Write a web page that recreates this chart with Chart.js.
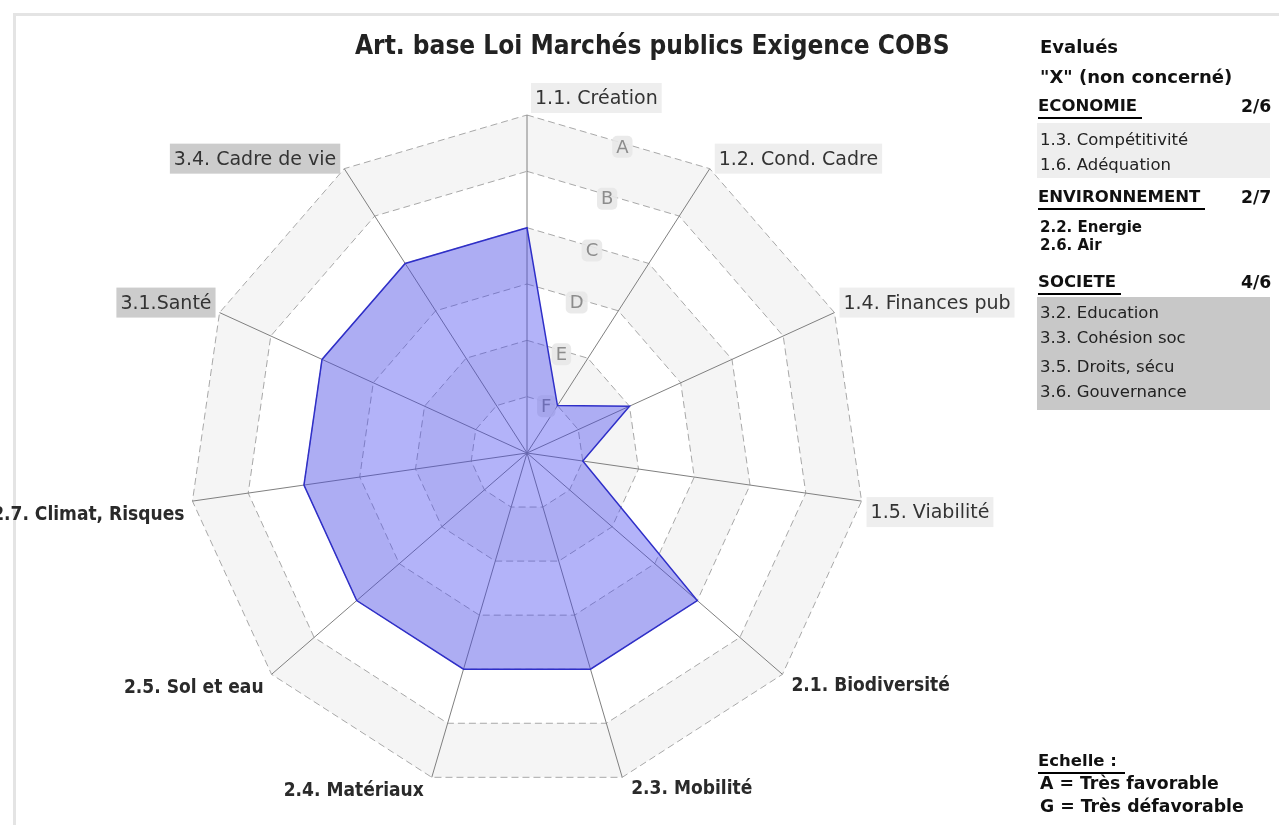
<!DOCTYPE html>
<html>
<head>
<meta charset="utf-8">
<script src="https://cdn.jsdelivr.net/npm/chart.js@4"></script>
<style>
  html, body { margin:0; padding:0; background:#fff; }
  #wrap { position:relative; width:1279px; height:825px; overflow:hidden; }
  #frame { position:absolute; left:13px; top:13px; width:1300px; height:900px; border-left:3px solid #e4e4e4; border-top:3px solid #e4e4e4; }
  canvas { position:absolute; left:0; top:0; }
  .t { position:absolute; white-space:nowrap; font-family:"DejaVu Sans", sans-serif; color:#111; }
  #title { left:355px; top:28px; width:590px; text-align:center; font-size:26px; font-weight:bold; font-stretch:condensed; font-family:"DejaVu Sans Condensed","DejaVu Sans",sans-serif; color:#222; line-height:34px; }
  .b { font-weight:bold; font-size:17.3px; line-height:20px; }
  .b18 { font-weight:bold; font-size:18px; line-height:20px; }
  .b15 { font-weight:bold; font-size:15px; line-height:18px; }
  .r { font-size:16.5px; line-height:22px; color:#222; }
  .h { font-weight:bold; font-size:16.5px; line-height:20px; border-bottom:2px solid #000; padding-right:5px; padding-bottom:1px; }
  .box { position:absolute; left:1037px; width:233px; }
</style>
</head>
<body>
<div id="wrap">
  <div id="frame"></div>
  <canvas id="c" width="1279" height="825"></canvas>
  <div id="title" class="t">Art. base Loi Marchés publics Exigence COBS</div>

  <div class="t b18" style="left:1040px;top:37px;">Evalués</div>
  <div class="t b18" style="left:1040px;top:67px;">"X" (non concerné)</div>

  <div class="t h" style="left:1038px;top:96px;">ECONOMIE</div>
  <div class="t b" style="left:1241px;top:96px;">2/6</div>
  <div class="box" style="top:123px;height:55px;background:#eeeeee;"></div>
  <div class="t r" style="left:1040px;top:129px;">1.3. Compétitivité</div>
  <div class="t r" style="left:1040px;top:154px;">1.6. Adéquation</div>

  <div class="t h" style="left:1038px;top:187px;">ENVIRONNEMENT</div>
  <div class="t b" style="left:1241px;top:187px;">2/7</div>
  <div class="t b15" style="left:1040px;top:218px;">2.2. Energie</div>
  <div class="t b15" style="left:1040px;top:236px;">2.6. Air</div>

  <div class="t h" style="left:1038px;top:272px;">SOCIETE</div>
  <div class="t b" style="left:1241px;top:272px;">4/6</div>
  <div class="box" style="top:297px;height:113px;background:#c8c8c8;"></div>
  <div class="t r" style="left:1040px;top:302px;">3.2. Education</div>
  <div class="t r" style="left:1040px;top:327px;">3.3. Cohésion soc</div>
  <div class="t r" style="left:1040px;top:356px;">3.5. Droits, sécu</div>
  <div class="t r" style="left:1040px;top:381px;">3.6. Gouvernance</div>

  <div class="t h" style="left:1038px;top:751px;padding-right:8px;">Echelle :</div>
  <div class="t b" style="left:1040px;top:773px;">A = Très favorable</div>
  <div class="t b" style="left:1040px;top:796px;">G = Très défavorable</div>
</div>
<script>
// ---- data ----
const categories = ['1.1. Création', '1.2. Cond. Cadre', '1.4. Finances pub', '1.5. Viabilité',
  '2.1. Biodiversité', '2.3. Mobilité', '2.4. Matériaux', '2.5. Sol et eau',
  '2.7. Climat, Risques', '3.1.Santé', '3.4. Cadre de vie'];
const values = [4, 1, 2, 1, 4, 4, 4, 4, 4, 4, 4];
const gradeLabels = ['G', 'F', 'E', 'D', 'C', 'B', 'A']; // index = scale value
const scaleMin = 0;
const scaleMax = 6;

// ---- plugins ----
const bandsPlugin = {
  id: 'bands',
  beforeDraw(chart) {
    const s = chart.scales.r;
    const ctx = chart.ctx;
    const n = chart.data.labels.length;
    ctx.save();
    for (let v = scaleMax; v > scaleMin; v--) {
      const grey = (scaleMax - v) % 2 === 0;
      ctx.beginPath();
      for (let i = 0; i < n; i++) {
        const p = s.getPointPositionForValue(i, v);
        i === 0 ? ctx.moveTo(p.x, p.y) : ctx.lineTo(p.x, p.y);
      }
      ctx.closePath();
      ctx.fillStyle = grey ? '#f5f5f5' : '#ffffff';
      ctx.fill();
    }
    ctx.restore();
  }
};

const gradePlugin = {
  id: 'grades',
  beforeDatasetsDraw(chart) {
    const s = chart.scales.r;
    const ctx = chart.ctx;
    ctx.save();
    ctx.font = '18px "DejaVu Sans", sans-serif';
    ctx.textAlign = 'center';
    ctx.textBaseline = 'middle';
    for (let v = scaleMin + 1; v <= scaleMax; v++) {
      const a = s.getPointPositionForValue(0, v);
      const b = s.getPointPositionForValue(1, v);
      const x = (a.x + b.x) / 2 + 4, y = (a.y + b.y) / 2 + 5;
      const txt = gradeLabels[v];
      const w = ctx.measureText(txt).width + 8;
      const h = 22;
      ctx.fillStyle = 'rgba(232,232,232,0.9)';
      ctx.beginPath();
      ctx.roundRect(x - w / 2, y - h / 2, w, h, 5);
      ctx.fill();
      ctx.fillStyle = '#8c8c8c';
      ctx.fillText(txt, x, y + 1);
    }
    ctx.restore();
  }
};

const labelPlugin = {
  id: 'axisLabels',
  afterDraw(chart) {
    const s = chart.scales.r;
    const ctx = chart.ctx;
    const n = chart.data.labels.length;
    ctx.save();
    ctx.textBaseline = 'middle';
    for (let i = 0; i < n; i++) {
      const txt = chart.data.labels[i];
      const group = txt.charAt(0);
      const p = s.getPointPosition(i, s.drawingArea);
      const ang = i * 2 * Math.PI / n;
      const sin = Math.sin(ang), cos = Math.cos(ang);
      if (group === '2') {
        ctx.font = 'bold 19px "Liberation Sans Narrow", "DejaVu Sans Condensed", sans-serif';
      } else {
        ctx.font = '19px "DejaVu Sans", sans-serif';
      }
      const tw = ctx.measureText(txt).width;
      let left, cy;
      if (i === 0) {
        left = p.x + 8; cy = p.y - 17;
      } else if (sin > 0) {
        left = p.x + 9; cy = cos > 0 ? p.y - 10 : p.y + 11;
      } else {
        left = p.x - 8 - tw; cy = cos > 0 ? p.y - 10 : p.y + 13;
      }
      if (group !== '2') {
        ctx.fillStyle = group === '1' ? '#eeeeee' : '#cccccc';
        ctx.fillRect(left - 4, cy - 15, tw + 8, 30);
        ctx.fillStyle = '#333';
      } else {
        ctx.fillStyle = '#2a2a2a';
      }
      ctx.textAlign = 'left';
      ctx.fillText(txt, left, cy + 1);
    }
    ctx.restore();
  }
};

new Chart(document.getElementById('c'), {
  type: 'radar',
  data: {
    labels: categories,
    datasets: [{
      data: values,
      backgroundColor: 'rgba(64,64,240,0.40)',
      borderColor: '#2f2fc8',
      borderWidth: 1.5,
      pointRadius: 0,
      pointHoverRadius: 0,
      fill: true
    }]
  },
  options: {
    responsive: false,
    devicePixelRatio: 1,
    animation: false,
    layout: { padding: { left: 189, right: 414, top: 115, bottom: 34 } },
    plugins: { legend: { display: false }, tooltip: { enabled: false }, title: { display: false } },
    scales: {
      r: {
        min: scaleMin,
        max: scaleMax,
        ticks: { display: false, stepSize: 1 },
        pointLabels: { display: false },
        angleLines: { color: '#808080', lineWidth: 1 },
        grid: { color: '#a8a8a8', lineWidth: 1, circular: false },
        border: { dash: [7, 4] }
      }
    }
  },
  plugins: [bandsPlugin, gradePlugin, labelPlugin]
});
</script>
</body>
</html>
